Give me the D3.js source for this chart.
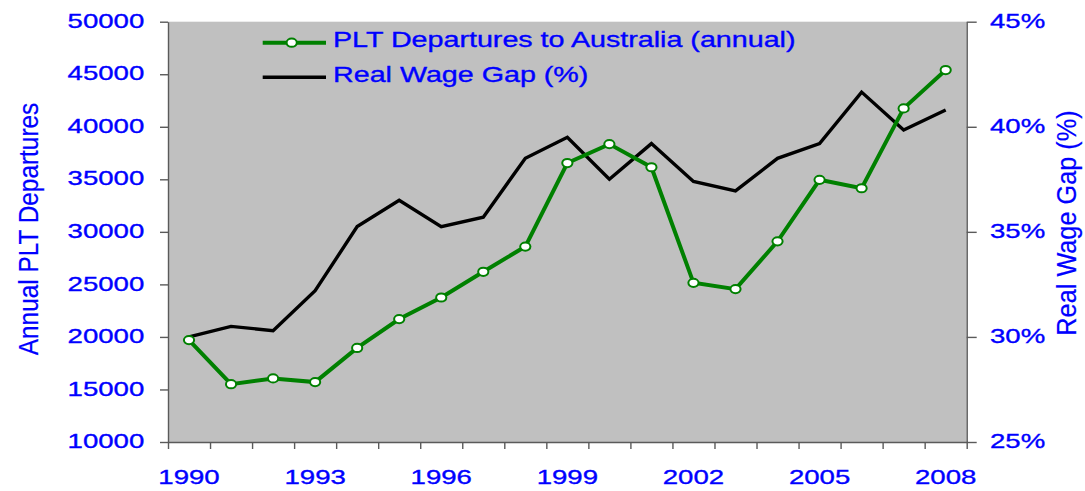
<!DOCTYPE html>
<html>
<head>
<meta charset="utf-8">
<script src="https://cdn.jsdelivr.net/npm/d3@7"></script>
<style>
  html, body { margin: 0; padding: 0; background: #fff; }
  svg { display: block; }
  text { font-family: "Liberation Sans", Arial, sans-serif; }
</style>
</head>
<body>
<svg id="chart" width="1085" height="491"></svg>
<script>
// ---- data ----
const years = [1990,1991,1992,1993,1994,1995,1996,1997,1998,1999,2000,2001,2002,2003,2004,2005,2006,2007,2008];
const departures = [19700,15500,16050,15700,18950,21700,23750,26200,28600,36550,38350,36150,25150,24550,29100,34950,34150,41750,45400];
const wageGap = [30.0,30.5,30.3,32.2,35.25,36.5,35.25,35.7,38.5,39.5,37.5,39.2,37.4,36.95,38.5,39.2,41.65,39.85,40.8];
const leftTicks = [10000,15000,20000,25000,30000,35000,40000,45000,50000];
const rightTicks = [25,30,35,40,45];
const xLabelYears = [1990,1993,1996,1999,2002,2005,2008];
const legendLabels = ["PLT Departures to Australia (annual)", "Real Wage Gap (%)"];
const leftTitle = "Annual PLT Departures";
const rightTitle = "Real Wage Gap (%)";

// ---- layout ----
const L = 168, R = 966.7, T = 21.7, B = 442;
const FS = 21, SX = 1.38 * 20 / 21;
const blue = "#0000FF", green = "#008000", axisCol = "#5a5a5a";

const svg = d3.select("#chart");

const x = d3.scaleBand().domain(years).range([L, R]).padding(0);
const xi = d3.scaleLinear().domain([0, years.length]).range([L, R]);
const yL = d3.scaleLinear().domain([10000, 50000]).range([B, T]);
const yR = d3.scaleLinear().domain([25, 45]).range([B, T]);
const cx = d => x(d) + x.bandwidth() / 2;

// plot area
svg.append("rect").attr("x", L).attr("y", T).attr("width", R - L).attr("height", B - T).attr("fill", "#C0C0C0");

function styleText(sel, size) {
  sel.attr("fill", blue).attr("stroke", blue).attr("stroke-width", 0.35)
     .style("font-size", size + "px");
}

// left axis
const gL = svg.append("g").attr("transform", `translate(${L},0)`)
  .call(d3.axisLeft(yL).tickValues(leftTicks).tickSize(8).tickSizeOuter(0).tickFormat(d3.format("d")));
gL.selectAll("text").attr("x", -23.7 / SX).attr("dy", "0.27em")
  .attr("transform", `scale(${SX},1)`).call(styleText, FS);

// right axis
const gR = svg.append("g").attr("transform", `translate(${R},0)`)
  .call(d3.axisRight(yR).tickValues(rightTicks).tickSize(10).tickSizeOuter(0).tickFormat(d => d + "%"));
gR.selectAll("text").attr("x", 23.3 / SX).attr("dy", "0.27em")
  .attr("transform", `scale(${SX},1)`).call(styleText, FS);

// bottom axis: tick marks at category boundaries
const gB = svg.append("g").attr("transform", `translate(0,${B})`)
  .call(d3.axisBottom(xi).tickValues(d3.range(years.length + 1)).tickSize(7).tickSizeOuter(0).tickFormat(""));
// bottom labels at category centres
const gBL = svg.append("g").attr("transform", `translate(0,${B})`)
  .call(d3.axisBottom(x).tickValues(xLabelYears).tickSize(0).tickFormat(d3.format("d")));
gBL.select(".domain").remove();
gBL.selectAll("text").attr("y", 42).attr("dy", 0).attr("x", 0)
  .attr("transform", `scale(${SX},1)`).call(styleText, FS);

[gL, gR, gB].forEach(g => {
  g.select(".domain").attr("stroke", axisCol).attr("stroke-width", 1.4);
  g.selectAll(".tick line").attr("stroke", axisCol).attr("stroke-width", 1.4);
});

// black line (right axis)
svg.append("path").datum(years.map((yr, i) => [cx(yr), yR(wageGap[i])]))
  .attr("fill", "none").attr("stroke", "#000").attr("stroke-width", 3.4)
  .attr("stroke-linejoin", "miter").attr("d", d3.line());

// green line (left axis)
svg.append("path").datum(years.map((yr, i) => [cx(yr), yL(departures[i])]))
  .attr("fill", "none").attr("stroke", green).attr("stroke-width", 4)
  .attr("stroke-linejoin", "miter").attr("d", d3.line());
svg.append("g").selectAll("ellipse").data(years).join("ellipse")
  .attr("cx", d => cx(d)).attr("cy", (d, i) => yL(departures[i]))
  .attr("rx", 5.1).attr("ry", 4.1).attr("fill", "#fff").attr("stroke", green).attr("stroke-width", 2);

// legend
const lg = svg.append("g");
lg.append("line").attr("x1", 262.7).attr("x2", 326).attr("y1", 42.7).attr("y2", 42.7).attr("stroke", green).attr("stroke-width", 4);
lg.append("ellipse").attr("cx", 291.7).attr("cy", 42.7).attr("rx", 5.1).attr("ry", 4.1).attr("fill", "#fff").attr("stroke", green).attr("stroke-width", 2);
lg.append("line").attr("x1", 262.7).attr("x2", 326).attr("y1", 77.3).attr("y2", 77.3).attr("stroke", "#000").attr("stroke-width", 3.4);
lg.selectAll("text").data(legendLabels).join("text")
  .attr("transform", (d, i) => `translate(333,${[47, 82][i]}) scale(1.334,1)`)
  .call(styleText, 21.5).text(d => d);

// axis titles
svg.append("text").attr("transform", `translate(38,229) scale(1.1,1) rotate(-90)`)
  .attr("text-anchor", "middle").call(styleText, 24.4).attr("stroke-width", 0.2).text(leftTitle);
svg.append("text").attr("transform", `translate(1076,223) scale(1.1,1) rotate(-90)`)
  .attr("text-anchor", "middle").call(styleText, 25.3).attr("stroke-width", 0.2).text(rightTitle);
</script>
</body>
</html>
